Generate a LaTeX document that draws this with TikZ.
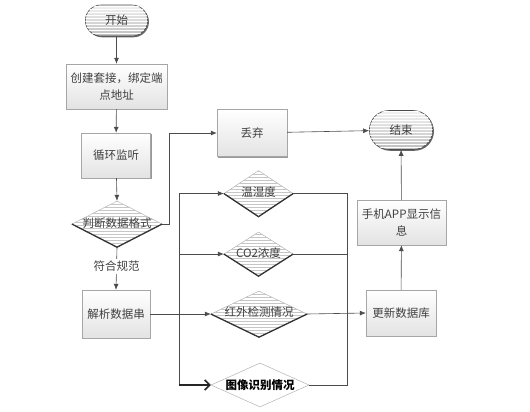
\documentclass[tikz,border=0pt]{standalone}
\usepackage{fontspec}
\setmainfont{Noto Sans CJK SC}
\usetikzlibrary{shapes.geometric,shapes.misc,arrows.meta,patterns,shadows}
\begin{document}
\begin{tikzpicture}[x=1pt,y=-1pt,
  txt/.style={font=\fontsize{11.5}{17}\selectfont, text=black!75},
  box/.style={rectangle, draw=gray!70, top color=white, bottom color=gray!22,
    drop shadow={shadow xshift=1.3pt,shadow yshift=-1.3pt,fill=gray!80,opacity=1},
    txt, align=center, inner sep=2pt},
  term/.style={rounded rectangle, draw=gray!60!black, line width=0.6pt, top color=gray!10, bottom color=gray!50,
    postaction={pattern=horizontal lines, pattern color=white},
    drop shadow={shadow xshift=1.3pt,shadow yshift=-1.3pt,fill=gray!80!black,opacity=1},
    txt},
  dia/.style={diamond, draw=gray!70, fill=white,
    postaction={pattern=horizontal lines, pattern color=gray!45}, inner sep=0pt},
  plaindia/.style={diamond, draw=gray!70, fill=white, inner sep=0pt},
  rim/.style={draw=gray!40!black, line width=1.3pt},
  ln/.style={draw=gray!60!black, line width=0.6pt},
  arr/.style={ln, -{Latex[length=6pt,width=5pt]}},
  barb/.style={draw=black!85, line width=1.6pt, -{Straight Barb[length=5pt,width=10pt,line width=1.6pt]}}
]
\useasboundingbox (0,0) rectangle (530,412);

% nodes
\node[term, minimum width=69pt, minimum height=31pt] (start) at (116.5,20.5) {开始};
\node[box, minimum width=101pt, minimum height=45pt] (sock) at (116.5,86.5) {创建套接，绑定端\\点地址};
\node[box, minimum width=69pt, minimum height=45pt] (loop) at (116,155.5) {循环监听};
\node[dia, minimum width=90pt, minimum height=46pt] (judge) at (117,224) {};
\node[txt, inner sep=0pt] (judgeT) at (117,223) {判断数据格式};
\node[box, minimum width=68pt, minimum height=48pt] (parse) at (116,314) {解析数据串};

\node[box, minimum width=70pt, minimum height=47pt] (drop) at (252,133) {丢弃};
\node[term, minimum width=70pt, minimum height=39pt] (end) at (401,130) {结束};

\node[dia, minimum width=69pt, minimum height=46pt] (temp) at (258.5,193.5) {};
\node[txt, inner sep=0pt] (tempT) at (258.5,192.5) {温湿度};
\node[dia, minimum width=69pt, minimum height=44pt] (co2) at (258.5,254) {};
\node[txt, inner sep=0pt] (co2T) at (258.5,253) {CO2浓度};
\node[dia, minimum width=96pt, minimum height=46pt] (ir) at (259,314) {};
\node[txt, inner sep=0pt] (irT) at (259,312.5) {红外检测情况};
\node[plaindia, minimum width=98pt, minimum height=44pt] (img) at (260,385) {};
\node[txt, inner sep=0pt, font=\fontsize{11.5}{17}\selectfont\bfseries, text=black] (imgT) at (260,385) {图像识别情况};

\node[box, minimum width=70pt, minimum height=46pt] (upd) at (401,313) {更新数据库};
\node[box, minimum width=89pt, minimum height=45pt] (app) at (401.5,222.5) {手机APP显示信\\息};

% dark lower rims of the striped diamonds
\foreach \d in {judge,temp,co2,ir}{
  \draw[rim] (\d.west) -- (\d.south) -- (\d.east);
}

% bus coordinates
\coordinate (bl) at (179,0);
\coordinate (br) at (347,0);
\coordinate (bend) at (169,0);

% connectors
\draw[arr] (start) -- (sock);
\draw[arr] (sock) -- (loop);
\draw[arr] (loop) -- (judge.north);
\draw[arr] (judge.south) -- node[txt, fill=white, inner sep=2pt, pos=0.45] (ok) {符合规范} (parse.north);
\draw[arr] (judge.east) -- (bend |- judge.east) |- (drop.west);
\draw[arr] (drop) -- (end);

\draw[arr] (parse.east) -- (ir.west);
\draw[ln] (bl |- temp.west) -- (bl |- img.west);
\draw[arr] (bl |- temp.west) -- (temp.west);
\draw[arr] (bl |- co2.west) -- (co2.west);
\draw[barb] (bl |- img.west) -- (img.west);

\draw[ln] (temp.east) -- (br |- temp.east) -- (br |- img.east) -- (img.east);
\draw[ln] (co2.east) -- (br |- co2.east);
\draw[arr] (ir.east) -- (upd.west);

\draw[arr] (upd) -- (app);
\draw[arr] (app) -- (end);
\end{tikzpicture}
\end{document}
